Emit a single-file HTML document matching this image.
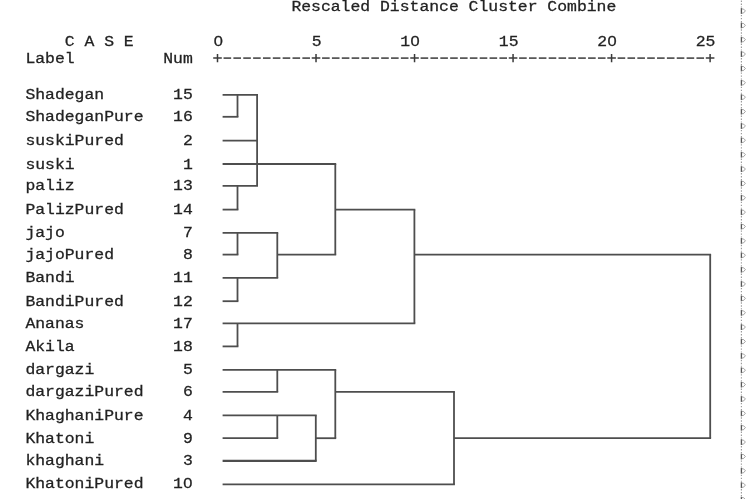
<!DOCTYPE html>
<html><head><meta charset="utf-8"><style>
html,body{margin:0;padding:0;background:#fff;}
body{width:750px;height:499px;position:relative;overflow:hidden;font-family:"Liberation Mono",monospace;}
.t{position:absolute;white-space:pre;font-size:16.42px;line-height:20px;color:#222;-webkit-text-stroke:0.3px #222;letter-spacing:0;transform:scaleY(0.91);transform-origin:50% 50%;}
svg{position:absolute;left:0;top:0;}
.z{font-family:"Liberation Sans",sans-serif;line-height:0;padding:0 0.360px;}
#w{position:absolute;left:0;top:0;width:750px;height:499px;filter:blur(0.4px);}
</style></head><body><div id="w">
<div class="t" style="left:291.4px;top:-2.7px">Rescaled Distance Cluster Combine</div>
<div class="t" style="left:64.8px;top:31.7px">C A S E</div>
<div class="t" style="left:213.3px;top:31.5px"><span class="z">0</span>         5        1<span class="z">0</span>        15        2<span class="z">0</span>        25</div>
<div class="t" style="left:25.4px;top:49.3px">Label         Num</div>
<div class="t" style="left:25.4px;top:85.3px">Shadegan       15</div>
<div class="t" style="left:25.4px;top:107.3px">ShadeganPure   16</div>
<div class="t" style="left:25.4px;top:131.1px">suskiPured      2</div>
<div class="t" style="left:25.4px;top:154.5px">suski           1</div>
<div class="t" style="left:25.4px;top:176.3px">paliz          13</div>
<div class="t" style="left:25.4px;top:200.1px">PalizPured     14</div>
<div class="t" style="left:25.4px;top:223.3px">jajo            7</div>
<div class="t" style="left:25.4px;top:245.1px">jajoPured       8</div>
<div class="t" style="left:25.4px;top:268.3px">Bandi          11</div>
<div class="t" style="left:25.4px;top:291.7px">BandiPured     12</div>
<div class="t" style="left:25.4px;top:313.9px">Ananas         17</div>
<div class="t" style="left:25.4px;top:336.9px">Akila          18</div>
<div class="t" style="left:25.4px;top:360.3px">dargazi         5</div>
<div class="t" style="left:25.4px;top:382.3px">dargaziPured    6</div>
<div class="t" style="left:25.4px;top:405.9px">KhaghaniPure    4</div>
<div class="t" style="left:25.4px;top:428.7px">Khatoni         9</div>
<div class="t" style="left:25.4px;top:451.3px">khaghani        3</div>
<div class="t" style="left:25.4px;top:474.3px">KhatoniPured   1<span class="z">0</span></div>
<svg width="750" height="499" viewBox="0 0 750 499">
<g stroke="#4e4e4e" stroke-width="1.8" fill="none" stroke-linecap="butt">
<line x1="222.6" y1="94.8" x2="258.0" y2="94.8"/>
<line x1="222.6" y1="116.8" x2="238.4" y2="116.8"/>
<line x1="222.6" y1="140.6" x2="258.0" y2="140.6"/>
<line x1="222.6" y1="164.0" x2="336.2" y2="164.0"/>
<line x1="222.6" y1="185.8" x2="258.0" y2="185.8"/>
<line x1="222.6" y1="209.6" x2="238.4" y2="209.6"/>
<line x1="222.6" y1="232.8" x2="278.2" y2="232.8"/>
<line x1="222.6" y1="254.6" x2="238.4" y2="254.6"/>
<line x1="222.6" y1="277.8" x2="278.2" y2="277.8"/>
<line x1="222.6" y1="301.2" x2="238.4" y2="301.2"/>
<line x1="222.6" y1="323.4" x2="415.3" y2="323.4"/>
<line x1="222.6" y1="346.4" x2="238.4" y2="346.4"/>
<line x1="222.6" y1="369.8" x2="336.2" y2="369.8"/>
<line x1="222.6" y1="391.8" x2="278.2" y2="391.8"/>
<line x1="222.6" y1="415.4" x2="316.7" y2="415.4"/>
<line x1="222.6" y1="438.2" x2="278.2" y2="438.2"/>
<line x1="222.6" y1="460.8" x2="316.7" y2="460.8" stroke-width="2.3"/>
<line x1="222.6" y1="484.4" x2="454.9" y2="484.4"/>
<line x1="277.3" y1="254.6" x2="336.2" y2="254.6"/>
<line x1="335.3" y1="209.6" x2="415.3" y2="209.6"/>
<line x1="414.4" y1="254.6" x2="711.1" y2="254.6"/>
<line x1="335.3" y1="391.8" x2="454.9" y2="391.8"/>
<line x1="315.8" y1="438.2" x2="336.2" y2="438.2"/>
<line x1="454.0" y1="438.2" x2="711.1" y2="438.2"/>
<line x1="237.5" y1="94.8" x2="237.5" y2="116.8"/>
<line x1="237.5" y1="185.8" x2="237.5" y2="209.6"/>
<line x1="237.5" y1="232.8" x2="237.5" y2="254.6"/>
<line x1="237.5" y1="277.8" x2="237.5" y2="301.2"/>
<line x1="237.5" y1="323.4" x2="237.5" y2="346.4"/>
<line x1="257.1" y1="94.8" x2="257.1" y2="185.8"/>
<line x1="277.3" y1="232.8" x2="277.3" y2="277.8"/>
<line x1="277.3" y1="369.8" x2="277.3" y2="391.8"/>
<line x1="277.3" y1="415.4" x2="277.3" y2="438.2"/>
<line x1="315.8" y1="415.4" x2="315.8" y2="460.8"/>
<line x1="335.3" y1="164.0" x2="335.3" y2="254.6"/>
<line x1="335.3" y1="369.8" x2="335.3" y2="438.2"/>
<line x1="414.4" y1="209.6" x2="414.4" y2="323.4"/>
<line x1="454.0" y1="391.8" x2="454.0" y2="484.4"/>
<line x1="710.2" y1="254.6" x2="710.2" y2="438.2"/>
</g>
<g stroke="#3a3a3a" stroke-width="1.5" fill="none">
<path d="M213.20 58.1H221.80M217.50 54.0V62.2"/>
<path d="M223.55 58.1H231.15"/>
<path d="M233.40 58.1H241.00"/>
<path d="M243.26 58.1H250.86"/>
<path d="M253.11 58.1H260.71"/>
<path d="M262.96 58.1H270.56"/>
<path d="M272.81 58.1H280.41"/>
<path d="M282.66 58.1H290.26"/>
<path d="M292.52 58.1H300.12"/>
<path d="M302.37 58.1H309.97"/>
<path d="M311.72 58.1H320.32M316.02 54.0V62.2"/>
<path d="M322.07 58.1H329.67"/>
<path d="M331.92 58.1H339.52"/>
<path d="M341.78 58.1H349.38"/>
<path d="M351.63 58.1H359.23"/>
<path d="M361.48 58.1H369.08"/>
<path d="M371.33 58.1H378.93"/>
<path d="M381.18 58.1H388.78"/>
<path d="M391.04 58.1H398.64"/>
<path d="M400.89 58.1H408.49"/>
<path d="M410.24 58.1H418.84M414.54 54.0V62.2"/>
<path d="M420.59 58.1H428.19"/>
<path d="M430.44 58.1H438.04"/>
<path d="M440.30 58.1H447.90"/>
<path d="M450.15 58.1H457.75"/>
<path d="M460.00 58.1H467.60"/>
<path d="M469.85 58.1H477.45"/>
<path d="M479.70 58.1H487.30"/>
<path d="M489.56 58.1H497.16"/>
<path d="M499.41 58.1H507.01"/>
<path d="M508.76 58.1H517.36M513.06 54.0V62.2"/>
<path d="M519.11 58.1H526.71"/>
<path d="M528.96 58.1H536.56"/>
<path d="M538.82 58.1H546.42"/>
<path d="M548.67 58.1H556.27"/>
<path d="M558.52 58.1H566.12"/>
<path d="M568.37 58.1H575.97"/>
<path d="M578.22 58.1H585.82"/>
<path d="M588.08 58.1H595.68"/>
<path d="M597.93 58.1H605.53"/>
<path d="M607.28 58.1H615.88M611.58 54.0V62.2"/>
<path d="M617.63 58.1H625.23"/>
<path d="M627.48 58.1H635.08"/>
<path d="M637.34 58.1H644.94"/>
<path d="M647.19 58.1H654.79"/>
<path d="M657.04 58.1H664.64"/>
<path d="M666.89 58.1H674.49"/>
<path d="M676.74 58.1H684.34"/>
<path d="M686.60 58.1H694.20"/>
<path d="M696.45 58.1H704.05"/>
<path d="M705.80 58.1H714.40M710.10 54.0V62.2"/>
</g>
<g stroke="#555" stroke-width="1.3" fill="none">
<line x1="741.4" y1="-6.3" x2="741.4" y2="-0.5"/>
<line x1="741.4" y1="8.1" x2="741.4" y2="13.9"/>
<line x1="741.4" y1="22.5" x2="741.4" y2="28.3"/>
<line x1="741.4" y1="36.8" x2="741.4" y2="42.6"/>
<line x1="741.4" y1="51.2" x2="741.4" y2="57.0"/>
<line x1="741.4" y1="65.6" x2="741.4" y2="71.4"/>
<line x1="741.4" y1="79.9" x2="741.4" y2="85.7"/>
<line x1="741.4" y1="94.3" x2="741.4" y2="100.1"/>
<line x1="741.4" y1="108.7" x2="741.4" y2="114.5"/>
<line x1="741.4" y1="123.1" x2="741.4" y2="128.9"/>
<line x1="741.4" y1="137.4" x2="741.4" y2="143.2"/>
<line x1="741.4" y1="151.8" x2="741.4" y2="157.6"/>
<line x1="741.4" y1="166.2" x2="741.4" y2="172.0"/>
<line x1="741.4" y1="180.5" x2="741.4" y2="186.3"/>
<line x1="741.4" y1="194.9" x2="741.4" y2="200.7"/>
<line x1="741.4" y1="209.3" x2="741.4" y2="215.1"/>
<line x1="741.4" y1="223.7" x2="741.4" y2="229.4"/>
<line x1="741.4" y1="238.0" x2="741.4" y2="243.8"/>
<line x1="741.4" y1="252.4" x2="741.4" y2="258.2"/>
<line x1="741.4" y1="266.8" x2="741.4" y2="272.6"/>
<line x1="741.4" y1="281.1" x2="741.4" y2="286.9"/>
<line x1="741.4" y1="295.5" x2="741.4" y2="301.3"/>
<line x1="741.4" y1="309.9" x2="741.4" y2="315.7"/>
<line x1="741.4" y1="324.2" x2="741.4" y2="330.0"/>
<line x1="741.4" y1="338.6" x2="741.4" y2="344.4"/>
<line x1="741.4" y1="353.0" x2="741.4" y2="358.8"/>
<line x1="741.4" y1="367.4" x2="741.4" y2="373.2"/>
<line x1="741.4" y1="381.7" x2="741.4" y2="387.5"/>
<line x1="741.4" y1="396.1" x2="741.4" y2="401.9"/>
<line x1="741.4" y1="410.5" x2="741.4" y2="416.3"/>
<line x1="741.4" y1="424.8" x2="741.4" y2="430.6"/>
<line x1="741.4" y1="439.2" x2="741.4" y2="445.0"/>
<line x1="741.4" y1="453.6" x2="741.4" y2="459.4"/>
<line x1="741.4" y1="467.9" x2="741.4" y2="473.7"/>
<line x1="741.4" y1="482.3" x2="741.4" y2="488.1"/>
<line x1="741.4" y1="496.7" x2="741.4" y2="502.5"/>
</g>
<g stroke="#8a8a8a" stroke-width="0.8" fill="none">
<path d="M741.6 -5.5L743.6 -5.3L745.4 -3.5L743.4 -1.3L741.6 -1.3"/>
<path d="M741.6 8.9L743.6 9.1L745.4 10.9L743.4 13.1L741.6 13.1"/>
<path d="M741.6 23.3L743.6 23.5L745.4 25.3L743.4 27.5L741.6 27.5"/>
<path d="M741.6 37.6L743.6 37.8L745.4 39.6L743.4 41.8L741.6 41.8"/>
<path d="M741.6 52.0L743.6 52.2L745.4 54.0L743.4 56.2L741.6 56.2"/>
<path d="M741.6 66.4L743.6 66.6L745.4 68.4L743.4 70.6L741.6 70.6"/>
<path d="M741.6 80.7L743.6 80.9L745.4 82.7L743.4 84.9L741.6 84.9"/>
<path d="M741.6 95.1L743.6 95.3L745.4 97.1L743.4 99.3L741.6 99.3"/>
<path d="M741.6 109.5L743.6 109.7L745.4 111.5L743.4 113.7L741.6 113.7"/>
<path d="M741.6 123.9L743.6 124.1L745.4 125.9L743.4 128.1L741.6 128.1"/>
<path d="M741.6 138.2L743.6 138.4L745.4 140.2L743.4 142.4L741.6 142.4"/>
<path d="M741.6 152.6L743.6 152.8L745.4 154.6L743.4 156.8L741.6 156.8"/>
<path d="M741.6 167.0L743.6 167.2L745.4 169.0L743.4 171.2L741.6 171.2"/>
<path d="M741.6 181.3L743.6 181.5L745.4 183.3L743.4 185.5L741.6 185.5"/>
<path d="M741.6 195.7L743.6 195.9L745.4 197.7L743.4 199.9L741.6 199.9"/>
<path d="M741.6 210.1L743.6 210.3L745.4 212.1L743.4 214.3L741.6 214.3"/>
<path d="M741.6 224.4L743.6 224.7L745.4 226.4L743.4 228.7L741.6 228.7"/>
<path d="M741.6 238.8L743.6 239.0L745.4 240.8L743.4 243.0L741.6 243.0"/>
<path d="M741.6 253.2L743.6 253.4L745.4 255.2L743.4 257.4L741.6 257.4"/>
<path d="M741.6 267.6L743.6 267.8L745.4 269.6L743.4 271.8L741.6 271.8"/>
<path d="M741.6 281.9L743.6 282.1L745.4 283.9L743.4 286.1L741.6 286.1"/>
<path d="M741.6 296.3L743.6 296.5L745.4 298.3L743.4 300.5L741.6 300.5"/>
<path d="M741.6 310.7L743.6 310.9L745.4 312.7L743.4 314.9L741.6 314.9"/>
<path d="M741.6 325.0L743.6 325.2L745.4 327.0L743.4 329.2L741.6 329.2"/>
<path d="M741.6 339.4L743.6 339.6L745.4 341.4L743.4 343.6L741.6 343.6"/>
<path d="M741.6 353.8L743.6 354.0L745.4 355.8L743.4 358.0L741.6 358.0"/>
<path d="M741.6 368.2L743.6 368.4L745.4 370.2L743.4 372.4L741.6 372.4"/>
<path d="M741.6 382.5L743.6 382.7L745.4 384.5L743.4 386.7L741.6 386.7"/>
<path d="M741.6 396.9L743.6 397.1L745.4 398.9L743.4 401.1L741.6 401.1"/>
<path d="M741.6 411.3L743.6 411.5L745.4 413.3L743.4 415.5L741.6 415.5"/>
<path d="M741.6 425.6L743.6 425.8L745.4 427.6L743.4 429.8L741.6 429.8"/>
<path d="M741.6 440.0L743.6 440.2L745.4 442.0L743.4 444.2L741.6 444.2"/>
<path d="M741.6 454.4L743.6 454.6L745.4 456.4L743.4 458.6L741.6 458.6"/>
<path d="M741.6 468.7L743.6 468.9L745.4 470.7L743.4 472.9L741.6 472.9"/>
<path d="M741.6 483.1L743.6 483.3L745.4 485.1L743.4 487.3L741.6 487.3"/>
<path d="M741.6 497.5L743.6 497.7L745.4 499.5L743.4 501.7L741.6 501.7"/>
</g>
<g stroke="#999" stroke-width="1.1" fill="none" stroke-dasharray="1.4 1.6">
<line x1="741.4" y1="0.5" x2="741.4" y2="7.5"/>
<line x1="741.4" y1="14.9" x2="741.4" y2="21.9"/>
<line x1="741.4" y1="29.3" x2="741.4" y2="36.3"/>
<line x1="741.4" y1="43.6" x2="741.4" y2="50.6"/>
<line x1="741.4" y1="58.0" x2="741.4" y2="65.0"/>
<line x1="741.4" y1="72.4" x2="741.4" y2="79.4"/>
<line x1="741.4" y1="86.7" x2="741.4" y2="93.7"/>
<line x1="741.4" y1="101.1" x2="741.4" y2="108.1"/>
<line x1="741.4" y1="115.5" x2="741.4" y2="122.5"/>
<line x1="741.4" y1="129.9" x2="741.4" y2="136.9"/>
<line x1="741.4" y1="144.2" x2="741.4" y2="151.2"/>
<line x1="741.4" y1="158.6" x2="741.4" y2="165.6"/>
<line x1="741.4" y1="173.0" x2="741.4" y2="180.0"/>
<line x1="741.4" y1="187.3" x2="741.4" y2="194.3"/>
<line x1="741.4" y1="201.7" x2="741.4" y2="208.7"/>
<line x1="741.4" y1="216.1" x2="741.4" y2="223.1"/>
<line x1="741.4" y1="230.4" x2="741.4" y2="237.4"/>
<line x1="741.4" y1="244.8" x2="741.4" y2="251.8"/>
<line x1="741.4" y1="259.2" x2="741.4" y2="266.2"/>
<line x1="741.4" y1="273.6" x2="741.4" y2="280.6"/>
<line x1="741.4" y1="287.9" x2="741.4" y2="294.9"/>
<line x1="741.4" y1="302.3" x2="741.4" y2="309.3"/>
<line x1="741.4" y1="316.7" x2="741.4" y2="323.7"/>
<line x1="741.4" y1="331.0" x2="741.4" y2="338.0"/>
<line x1="741.4" y1="345.4" x2="741.4" y2="352.4"/>
<line x1="741.4" y1="359.8" x2="741.4" y2="366.8"/>
<line x1="741.4" y1="374.2" x2="741.4" y2="381.2"/>
<line x1="741.4" y1="388.5" x2="741.4" y2="395.5"/>
<line x1="741.4" y1="402.9" x2="741.4" y2="409.9"/>
<line x1="741.4" y1="417.3" x2="741.4" y2="424.3"/>
<line x1="741.4" y1="431.6" x2="741.4" y2="438.6"/>
<line x1="741.4" y1="446.0" x2="741.4" y2="453.0"/>
<line x1="741.4" y1="460.4" x2="741.4" y2="467.4"/>
<line x1="741.4" y1="474.7" x2="741.4" y2="481.7"/>
<line x1="741.4" y1="489.1" x2="741.4" y2="496.1"/>
<line x1="741.4" y1="503.5" x2="741.4" y2="510.5"/>
</g>
</svg>
</div></body></html>
